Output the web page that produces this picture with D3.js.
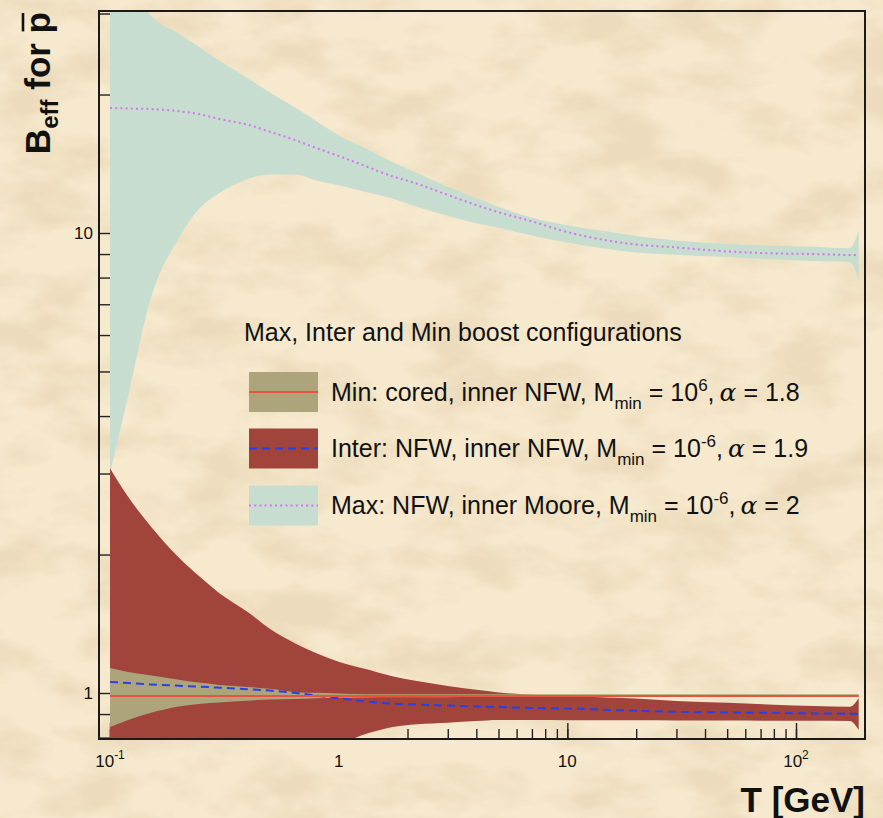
<!DOCTYPE html>
<html>
<head>
<meta charset="utf-8">
<script src="https://d3js.org/d3.v7.min.js"></script>
<style>
  body { margin: 0; background: #f2e3c5; }
  svg { display: block; }
  text { font-family: "Liberation Sans", Arial, Helvetica, sans-serif; fill: #111; }
</style>
</head>
<body>
<svg id="chart" width="883" height="818"></svg>
<script>
// kinetic energy grid (GeV)
const T = [0.1, 0.12, 0.15, 0.2, 0.25, 0.3, 0.4, 0.5, 0.65, 0.8, 1, 1.3, 1.7, 2.2, 3, 4, 5, 7, 10, 15, 20, 30, 50, 80, 120, 172, 188];

// Max configuration (NFW, inner Moore)
const maxHigh = [45, 36, 29.8, 27.1, 25.2, 23.7, 21.7, 20.2, 18.7, 17.5, 16.3, 15.3, 14.3, 13.5, 12.6, 11.9, 11.4, 10.8, 10.4, 10.07, 9.85, 9.63, 9.46, 9.38, 9.34, 9.27, 10.15];
const maxMid  = [18.7, 18.65, 18.6, 18.4, 18.1, 17.7, 17.2, 16.6, 15.9, 15.3, 14.7, 14.0, 13.3, 12.8, 12.1, 11.5, 11.1, 10.6, 10.05, 9.63, 9.44, 9.30, 9.12, 9.03, 9.0, 8.96, 8.96];
const maxLow  = [3.01, 4.42, 7.15, 9.75, 11.4, 12.2, 13.1, 13.4, 13.4, 13.0, 12.7, 12.3, 11.9, 11.4, 10.9, 10.5, 10.26, 9.88, 9.53, 9.23, 9.07, 8.97, 8.87, 8.77, 8.69, 8.65, 7.9];

// Inter configuration (NFW, inner NFW)
const interHigh = [3.08, 2.67, 2.31, 1.97, 1.78, 1.65, 1.50, 1.38, 1.28, 1.22, 1.17, 1.129, 1.089, 1.062, 1.036, 1.016, 1.003, 0.991, 0.985, 0.978, 0.973, 0.961, 0.952, 0.943, 0.937, 0.933, 0.975];
const interMid  = [1.057, 1.051, 1.044, 1.037, 1.032, 1.027, 1.019, 1.012, 1.0, 0.987, 0.974, 0.959, 0.948, 0.944, 0.939, 0.935, 0.932, 0.928, 0.925, 0.919, 0.915, 0.910, 0.907, 0.905, 0.903, 0.901, 0.900];
const interLow  = [0.78, 0.78, 0.78, 0.78, 0.78, 0.78, 0.78, 0.78, 0.78, 0.78, 0.78, 0.813, 0.842, 0.855, 0.862, 0.869, 0.874, 0.874, 0.873, 0.872, 0.872, 0.871, 0.871, 0.870, 0.870, 0.869, 0.831];

// Min configuration (cored, inner NFW)
const minHigh = [1.133, 1.111, 1.093, 1.069, 1.052, 1.041, 1.031, 1.021, 1.004, 1.001, 0.998, 0.994, 0.994, 0.994, 0.994, 0.994, 0.994, 0.994, 0.994, 0.994, 0.994, 0.994, 0.994, 0.994, 0.994, 0.994, 0.994];
const minMid  = [0.985, 0.985, 0.985, 0.985, 0.985, 0.985, 0.985, 0.985, 0.985, 0.985, 0.985, 0.985, 0.985, 0.985, 0.985, 0.985, 0.985, 0.985, 0.985, 0.985, 0.985, 0.985, 0.985, 0.985, 0.985, 0.985, 0.985];
const minLow  = [0.844, 0.874, 0.905, 0.935, 0.948, 0.954, 0.962, 0.968, 0.970, 0.974, 0.976, 0.978, 0.979, 0.979, 0.979, 0.980, 0.980, 0.980, 0.980, 0.980, 0.980, 0.980, 0.980, 0.980, 0.980, 0.980, 0.980];

const xMinorTicks = [0.1,0.2,0.3,0.4,0.5,0.6,0.7,0.8,0.9,1,2,3,4,5,6,7,8,9,10,20,30,40,50,60,70,80,90,100,200];
const xMajorTicks = [0.1, 1, 10, 100];
const xLabels = [{v: 0.1, base: "10", sup: "-1"}, {v: 1, base: "1"}, {v: 10, base: "10"}, {v: 100, base: "10", sup: "2"}];
const yTicks = [0.8,0.9,1,2,3,4,5,6,7,8,9,10,20,30];
const yLabels = [1, 10];

const legendTitle = "Max, Inter and Min boost configurations";
const legendNames = ["Min: cored, inner NFW, M", "Inter: NFW, inner NFW, M", "Max: NFW, inner Moore, M"];
const legendExp = ["6", "-6", "-6"];
const legendAlpha = ["1.8", "1.9", "2"];

const svg = d3.select("#chart");
const W = 883, H = 818;
const frame = {left: 99, right: 865, top: 11, bottom: 739};

// parchment background
const defs = svg.append("defs");
const f = defs.append("filter").attr("id", "paper")
    .attr("x", 0).attr("y", 0).attr("width", "100%").attr("height", "100%");
f.append("feTurbulence").attr("type", "fractalNoise")
    .attr("baseFrequency", "0.012 0.022").attr("numOctaves", 5).attr("seed", 7).attr("result", "n");
f.append("feColorMatrix").attr("in", "n").attr("type", "matrix")
    .attr("values", "0 0 0 0 0.84  0 0 0 0 0.71  0 0 0 0 0.50  3.6 0 0 0 -1.55");
defs.append("clipPath").attr("id", "plotclip").append("rect")
    .attr("x", frame.left).attr("y", frame.top)
    .attr("width", frame.right - frame.left).attr("height", frame.bottom - frame.top);

svg.append("rect").attr("width", W).attr("height", H).attr("fill", "#f6e9cd");
svg.append("rect").attr("width", W).attr("height", H).attr("filter", "url(#paper)").attr("opacity", 0.9);

// scales: anchor decades on the picture, then stretch to the frame
const x = d3.scaleLog().domain([0.1, 100]).range([110, 796]);
x.domain([x.invert(frame.left), x.invert(frame.right)]).range([frame.left, frame.right]);
const y = d3.scaleLog().domain([1, 10]).range([693, 233]);
y.domain([y.invert(frame.bottom), y.invert(frame.top)]).range([frame.bottom, frame.top]);

// ticks (drawn under the bands, like ROOT)
const tickCol = "#222";
const xMinor = svg.append("g").attr("transform", "translate(0," + frame.bottom + ")")
    .call(d3.axisBottom(x).tickValues(xMinorTicks).tickSize(-10).tickFormat(""));
const xMajor = svg.append("g").attr("transform", "translate(0," + frame.bottom + ")")
    .call(d3.axisBottom(x).tickValues(xMajorTicks).tickSize(-16).tickFormat(""));
const yAx = svg.append("g").attr("transform", "translate(" + frame.left + ",0)")
    .call(d3.axisLeft(y).tickValues(yTicks).tickSize(-11).tickFormat(""));
[xMinor, xMajor, yAx].forEach(g => {
    g.select(".domain").remove();
    g.selectAll(".tick line").attr("stroke", tickCol).attr("stroke-width", 1.4);
});

// bands
const plot = svg.append("g").attr("clip-path", "url(#plotclip)");
const band = (lo, hi) => d3.area().curve(d3.curveMonotoneX)
    .x((d, i) => x(T[i])).y0((d, i) => y(lo[i])).y1((d, i) => y(hi[i]))(T);
const line = vals => d3.line().curve(d3.curveMonotoneX)
    .x((d, i) => x(T[i])).y((d, i) => y(vals[i]))(T);

const cMax = "#c6ddd0", cInter = "#a1443c", cMin = "#ada47c";
plot.append("path").attr("d", band(maxLow, maxHigh)).attr("fill", cMax);
plot.append("path").attr("d", band(interLow, interHigh)).attr("fill", cInter);
plot.append("path").attr("d", band(minLow, minHigh)).attr("fill", cMin);

const lineStyles = [
    {vals: maxMid, color: "#d774ef", dash: "2,3.2"},
    {vals: interMid, color: "#2a3fe6", dash: "8,5"},
    {vals: minMid, color: "#e4553c", dash: null}
];
lineStyles.forEach(s => {
    plot.append("path").attr("d", line(s.vals)).attr("fill", "none")
        .attr("stroke", s.color).attr("stroke-width", 2)
        .attr("stroke-dasharray", s.dash);
});

// frame
svg.append("rect").attr("x", frame.left).attr("y", frame.top)
    .attr("width", frame.right - frame.left).attr("height", frame.bottom - frame.top)
    .attr("fill", "none").attr("stroke", "#1a1a1a").attr("stroke-width", 2);

// axis labels
xLabels.forEach(l => {
    const t = svg.append("text").attr("x", x(l.v)).attr("y", 767)
        .attr("text-anchor", "middle").attr("font-size", 17).text(l.base);
    if (l.sup) t.append("tspan").attr("dy", -8).attr("font-size", 12).text(l.sup);
});
yLabels.forEach(v => {
    svg.append("text").attr("x", 93).attr("y", y(v)).attr("dy", "0.36em")
        .attr("text-anchor", "end").attr("font-size", 17).text(v);
});

svg.append("text").attr("x", 865).attr("y", 812).attr("text-anchor", "end")
    .attr("font-size", 35).attr("font-weight", "bold").text("T [GeV]");

const yt = svg.append("text").attr("transform", "translate(50,12) rotate(-90)")
    .attr("text-anchor", "end").attr("font-size", 35).attr("font-weight", "bold");
yt.append("tspan").text("B");
yt.append("tspan").attr("dy", 8).attr("font-size", 24).text("eff");
yt.append("tspan").attr("dy", -8).text(" for ");
yt.append("tspan").attr("class", "pbar").text("p");
// bar over the p, placed from the glyph's own box
const pb = yt.select(".pbar").node();
const pStart = pb.getStartPositionOfChar(0), pEnd = pb.getEndPositionOfChar(0);
svg.append("line")
    .attr("transform", "translate(50,12) rotate(-90)")
    .attr("x1", pStart.x + 2).attr("x2", pEnd.x - 1)
    .attr("y1", -27).attr("y2", -27)
    .attr("stroke", "#111").attr("stroke-width", 2.6);

// legend
svg.append("text").attr("x", 244).attr("y", 341).attr("font-size", 25).text(legendTitle);
const legColors = [cMin, cInter, cMax];
const legLines = [lineStyles[2], lineStyles[1], lineStyles[0]];
const rowY = [392, 448.5, 505.5];
rowY.forEach((cy, i) => {
    svg.append("rect").attr("x", 249).attr("y", cy - 20).attr("width", 69).attr("height", 40)
        .attr("fill", legColors[i]);
    svg.append("line").attr("x1", 249).attr("x2", 318).attr("y1", cy).attr("y2", cy)
        .attr("stroke", legLines[i].color).attr("stroke-width", 2)
        .attr("stroke-dasharray", legLines[i].dash);
    const t = svg.append("text").attr("x", 331).attr("y", cy + 8.5).attr("font-size", 25);
    t.append("tspan").text(legendNames[i]);
    t.append("tspan").attr("dy", 8).attr("font-size", 17).text("min");
    t.append("tspan").attr("dy", -8).text(" = 10");
    t.append("tspan").attr("dy", -10).attr("font-size", 17).text(legendExp[i]);
    t.append("tspan").attr("dy", 10).text(",\u2009");
    t.append("tspan").attr("font-family", "'DejaVu Serif', 'Liberation Serif', serif").attr("font-style", "italic").text("\u03b1");
    t.append("tspan").text(" = " + legendAlpha[i]);
});
</script>
</body>
</html>
